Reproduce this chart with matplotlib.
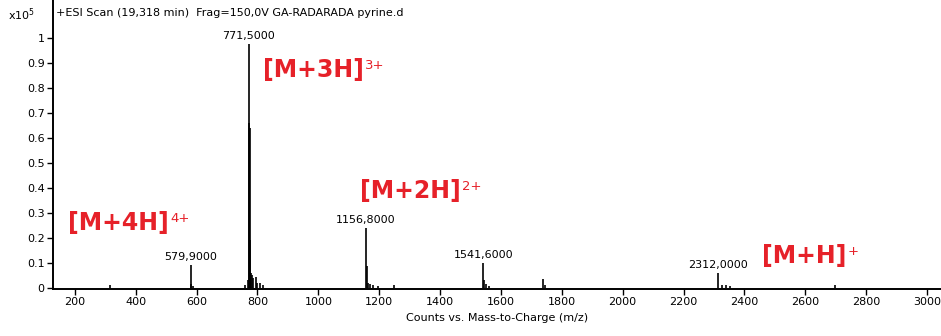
import numpy as np
import matplotlib
matplotlib.use("Agg")
import matplotlib.pyplot as plt

# peak list: m/z and intensity (x10^5 counts)
mz = [315, 579.9, 582, 589, 760, 768, 771.5, 773.5, 775.0, 776.5, 778, 781, 786, 794, 800, 808, 818,
      1156.8, 1159.5, 1163, 1170, 1180, 1195, 1247,
      1541.6, 1545, 1550, 1560, 1738, 1745,
      2312.0, 2325, 2340, 2353, 2698]
counts = [0.012, 0.092, 0.014, 0.008, 0.012, 0.03, 0.975, 0.66, 0.64, 0.19, 0.06, 0.05, 0.04, 0.045, 0.02, 0.02, 0.01,
          0.24, 0.088, 0.02, 0.015, 0.01, 0.008, 0.01,
          0.10, 0.03, 0.015, 0.008, 0.036, 0.012,
          0.06, 0.01, 0.01, 0.008, 0.012]

# labelled peaks
label_mz = [579.9, 771.5, 1156.8, 1541.6, 2312.0]
label_txt = ["579,9000", "771,5000", "1156,8000", "1541,6000", "2312,0000"]

# ion annotations: text, superscript, x, y (baseline)
ions = ["[M+4H]", "[M+3H]", "[M+2H]", "[M+H]"]
ion_sup = ["4+", "3+", "2+", "+"]
ion_x = [177, 818, 1137, 2458]
ion_y = [0.232, 0.844, 0.36, 0.10]

xticks = np.arange(200, 3001, 200)
yticks = np.arange(0, 1.01, 0.1)

red = "#e62129"

fig = plt.figure(figsize=(9.41, 3.36), dpi=100)
ax = fig.add_axes([0.0563, 0.1399, 0.9437, 0.8601])

ax.vlines(mz, 0, counts, color="black", lw=1.2)

for m, t in zip(label_mz, label_txt):
    h = counts[mz.index(m)]
    ax.annotate(t, xy=(m, h), xytext=(0, 2.5), textcoords="offset points",
                ha="center", va="bottom", fontsize=8)

for txt, sup, x, y in zip(ions, ion_sup, ion_x, ion_y):
    t = ax.text(x, y, txt, color=red, fontsize=17, fontweight="bold", va="baseline", ha="left")
    ax.annotate(sup, xy=(1.0, 0.97), xycoords=t, xytext=(1, 0), textcoords="offset points",
                color=red, fontsize=9.5, ha="left", va="top")

ax.set_xlim(128, 3046)
ax.set_ylim(-0.004, 1.152)
ax.set_xticks(xticks)
ax.set_xticklabels([str(v) for v in xticks])
ax.set_yticks(yticks)
ax.set_yticklabels(["0"] + [f"{v:.1f}" for v in yticks[1:-1]] + ["1"])
ax.tick_params(axis="both", labelsize=8, length=4, width=1, direction="out", pad=2)

for side in ["top", "right"]:
    ax.spines[side].set_visible(False)
for side in ["left", "bottom"]:
    ax.spines[side].set_linewidth(1.4)

ax.set_xlabel("Counts vs. Mass-to-Charge (m/z)", fontsize=8, labelpad=4)
ax.text(0.003, 0.955, "+ESI Scan (19,318 min)  Frag=150,0V GA-RADARADA pyrine.d",
        transform=ax.transAxes, fontsize=8, va="center", ha="left")
fig.text(0.008, 0.955, r"x10$^{5}$", fontsize=8, va="center", ha="left")

fig.savefig("out.png", dpi=100)
